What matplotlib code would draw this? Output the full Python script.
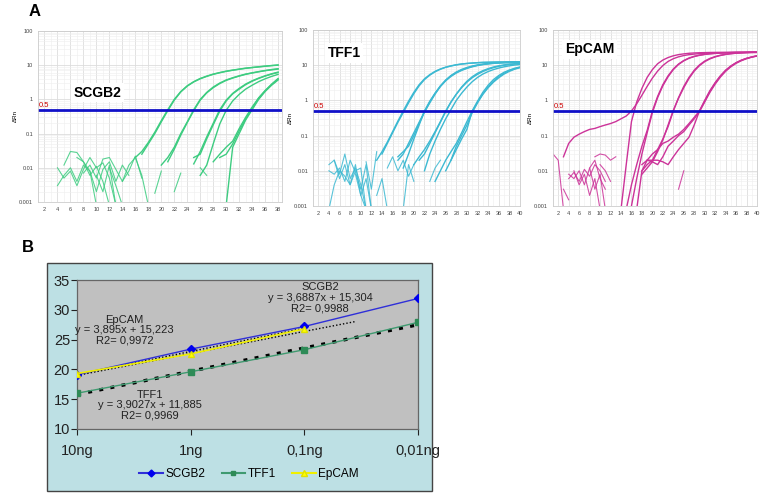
import numpy as np
import matplotlib.pyplot as plt
from matplotlib.patches import Rectangle
from matplotlib.lines import Line2D

plt.rcParams['font.family'] = ['Liberation Sans', 'DejaVu Sans']

W, H = 764, 496

# ---- panel A: amplification curves, (first cycle, values per cycle) ----
scgb2_curves = [
    (16, [0.02, 0.03, 0.055, 0.11, 0.24, 0.5, 1.0, 1.7, 2.5, 3.3, 4.1, 4.8, 5.5, 6.1, 6.7, 7.2, 7.7, 8.2, 8.6, 9.0, 9.4, 9.8, 10.2]),
    (17, [0.025, 0.05, 0.1, 0.22, 0.47, 0.95, 1.65, 2.45, 3.25, 4.0, 4.7, 5.4, 6.0, 6.6, 7.1, 7.6, 8.1, 8.5, 8.9, 9.3, 9.7, 10.0]),
    (20, [0.012, 0.02, 0.04, 0.1, 0.22, 0.5, 1.0, 1.6, 2.3, 3.0, 3.7, 4.3, 4.9, 5.5, 6.0, 6.5, 7.0, 7.5, 7.9]),
    (21, [0.015, 0.035, 0.09, 0.21, 0.47, 0.95, 1.55, 2.2, 2.9, 3.6, 4.2, 4.8, 5.4, 5.9, 6.4, 6.9, 7.3, 7.7]),
    (25, [0.013, 0.03, 0.08, 0.2, 0.5, 0.95, 1.5, 2.1, 2.8, 3.5, 4.2, 4.9, 5.6, 6.3]),
    (25, [0.02, 0.025, 0.07, 0.18, 0.45, 0.9, 1.45, 2.0, 2.7, 3.4, 4.1, 4.8, 5.5, 6.1]),
    (26, [0.006, 0.012, 0.05, 0.19, 0.48, 0.9, 1.4, 2.0, 2.6, 3.3, 4.0, 4.7, 5.4]),
    (30, [0.0008, 0.04, 0.1, 0.25, 0.5, 1.0, 1.7, 2.6, 3.7]),
    (29, [0.02, 0.025, 0.05, 0.12, 0.27, 0.55, 1.1, 1.8, 2.7, 3.9]),
    (28, [0.015, 0.025, 0.04, 0.06, 0.14, 0.3, 0.6, 1.1, 1.8, 2.8, 4.1]),
]
scgb2_noise = [
    (4, [0.003, 0.006, 0.01, 0.004, 0.012, 0.008, 0.002, 0.009, 0.015, 0.004, 0.012, 0.006]),
    (5, [0.012, 0.03, 0.028, 0.015, 0.006, 0.011, 0.004, 0.0008]),
    (4, [0.01, 0.005, 0.008, 0.003, 0.009, 0.02, 0.01, 0.014, 0.005, 0.0008]),
    (8, [0.007, 0.012, 0.005, 0.018, 0.02, 0.009, 0.004, 0.008, 0.022, 0.005]),
    (7, [0.02, 0.015, 0.008, 0.0008]),
    (10, [0.006, 0.002, 0.012, 0.0008]),
    (12, [0.01, 0.003, 0.0008]),
    (14, [0.004, 0.012, 0.02, 0.006, 0.0008]),
    (19, [0.0018, 0.008]),
    (22, [0.002, 0.007]),
    (26, [0.01, 0.006]),
]

tff1_curves = [
    (14, [0.03, 0.06, 0.12, 0.24, 0.45, 0.85, 1.55, 2.6, 3.9, 5.2, 6.5, 7.7, 8.7, 9.5, 10.2, 10.8, 11.2, 11.5, 11.8, 12.0, 12.1, 12.2, 12.3, 12.3, 12.4, 12.4, 12.4]),
    (13, [0.02, 0.035, 0.065, 0.13, 0.26, 0.5, 0.95, 1.7, 2.8, 4.1, 5.4, 6.7, 7.8, 8.8, 9.6, 10.3, 10.8, 11.2, 11.5, 11.8, 12.0, 12.1, 12.2, 12.3, 12.3, 12.4, 12.4, 12.4]),
    (17, [0.02, 0.03, 0.06, 0.12, 0.24, 0.48, 0.9, 1.6, 2.6, 3.8, 5.1, 6.4, 7.6, 8.6, 9.5, 10.2, 10.8, 11.2, 11.5, 11.7, 11.9, 12.0, 12.1, 12.1]),
    (17, [0.025, 0.035, 0.05, 0.1, 0.22, 0.46, 0.85, 1.5, 2.5, 3.7, 5.0, 6.2, 7.3, 8.3, 9.2, 9.9, 10.5, 11.0, 11.3, 11.6, 11.8, 11.9, 12.0, 12.0]),
    (18, [0.012, 0.03, 0.08, 0.2, 0.5, 0.95, 1.6, 2.5, 3.6, 4.8, 6.0, 7.1, 8.1, 9.0, 9.8, 10.4, 10.9, 11.3, 11.6, 11.8, 11.9, 12.0, 12.0]),
    (20, [0.015, 0.025, 0.04, 0.07, 0.13, 0.25, 0.5, 0.9, 1.5, 2.4, 3.5, 4.7, 5.9, 7.0, 8.0, 8.9, 9.6, 10.2, 10.7, 11.0, 11.3]),
    (21, [0.02, 0.03, 0.06, 0.12, 0.24, 0.48, 0.9, 1.5, 2.3, 3.3, 4.4, 5.5, 6.6, 7.6, 8.5, 9.3, 9.9, 10.4, 10.8, 11.1]),
    (22, [0.01, 0.03, 0.07, 0.15, 0.3, 0.55, 1.0, 1.6, 2.4, 3.4, 4.5, 5.6, 6.6, 7.5, 8.3, 9.0, 9.6, 10.1, 10.5]),
    (24, [0.005, 0.01, 0.02, 0.035, 0.06, 0.12, 0.25, 0.5, 0.95, 1.7, 2.7, 3.9, 5.1, 6.3, 7.3, 8.2, 8.9]),
    (26, [0.01, 0.02, 0.05, 0.1, 0.2, 0.45, 0.85, 1.5, 2.4, 3.5, 4.7, 5.9, 7.0, 7.9, 8.7]),
    (27, [0.02, 0.04, 0.08, 0.15, 0.5, 0.9, 1.5, 2.3, 3.3, 4.4, 5.6, 6.7, 7.7, 8.5]),
]
tff1_noise = [
    (4, [0.015, 0.02, 0.008, 0.03, 0.006, 0.012, 0.004, 0.0008]),
    (4, [0.01, 0.008, 0.012, 0.005, 0.02, 0.009, 0.003, 0.015, 0.0008]),
    (4, [0.0008, 0.004, 0.01, 0.007, 0.004, 0.015, 0.002, 0.006, 0.0008]),
    (5, [0.02, 0.006, 0.015, 0.004, 0.01, 0.012, 0.0008]),
    (9, [0.008, 0.002, 0.0008]),
    (11, [0.018, 0.003, 0.035]),
    (13, [0.002, 0.006, 0.0008]),
    (15, [0.012, 0.025, 0.01, 0.02, 0.007, 0.015]),
    (18, [0.0008, 0.015, 0.005]),
    (23, [0.005, 0.012, 0.02]),
]

epcam_curves = [
    (14, [0.0008, 0.015, 0.25, 0.9, 2.2, 4.5, 7.5, 11, 14, 16.5, 18.5, 20, 21, 21.8, 22.3, 22.6, 22.8, 23, 23.1, 23.2, 23.3, 23.3, 23.4, 23.4, 23.4, 23.5, 23.5]),
    (3, [0.025, 0.06, 0.09, 0.11, 0.13, 0.15, 0.16, 0.18, 0.2, 0.22, 0.25, 0.3, 0.36, 0.5, 0.8, 1.4, 2.5, 4.3, 6.8, 9.8, 12.8, 15.3, 17.3, 18.8, 19.9, 20.7, 21.3, 21.7, 22.0, 22.2, 22.4, 22.5, 22.6, 22.7, 22.8, 22.8, 22.9, 22.9]),
    (15, [0.0008, 0.004, 0.015, 0.05, 0.14, 0.5, 1.3, 2.8, 5.0, 7.8, 10.8, 13.6, 16.0, 17.9, 19.3, 20.4, 21.2, 21.8, 22.3, 22.6, 22.9, 23.1, 23.2, 23.3, 23.4, 23.5]),
    (16, [0.001, 0.006, 0.03, 0.12, 0.45, 1.2, 2.6, 4.7, 7.5, 10.5, 13.3, 15.7, 17.6, 19.1, 20.2, 21.0, 21.6, 22.1, 22.5, 22.8, 23.0, 23.1, 23.2, 23.3, 23.3]),
    (17, [0.0008, 0.01, 0.015, 0.02, 0.04, 0.08, 0.18, 0.5, 1.2, 2.5, 4.5, 7.2, 10.2, 13.1, 15.6, 17.6, 19.2, 20.4, 21.3, 22.0, 22.5, 22.9, 23.2, 23.4]),
    (18, [0.008, 0.012, 0.018, 0.035, 0.075, 0.2, 0.52, 1.15, 2.3, 4.2, 6.8, 9.7, 12.6, 15.1, 17.2, 18.9, 20.2, 21.2, 21.9, 22.4, 22.8, 23.1, 23.3]),
    (18, [0.015, 0.02, 0.02, 0.02, 0.018, 0.015, 0.025, 0.04, 0.06, 0.09, 0.2, 0.5, 1.0, 1.9, 3.2, 5.0, 7.2, 9.5, 11.8, 13.9, 15.7, 17.2, 18.5]),
    (18, [0.01, 0.02, 0.03, 0.04, 0.06, 0.07, 0.09, 0.11, 0.15, 0.22, 0.33, 0.5, 0.95, 1.8, 3.1, 4.9, 7.1, 9.4, 11.7, 13.8, 15.6, 17.1, 18.4]),
    (19, [0.02, 0.018, 0.015, 0.025, 0.05, 0.07, 0.1, 0.13, 0.2, 0.3, 0.48, 0.9, 1.7, 2.9, 4.6, 6.7, 9.0, 11.3, 13.4, 15.3, 16.9, 18.2]),
]
epcam_noise = [
    (1, [0.03, 0.02, 0.0008]),
    (3, [0.003, 0.0015]),
    (4, [0.008, 0.006, 0.01, 0.004, 0.012, 0.003, 0.008, 0.0008]),
    (4, [0.006, 0.009, 0.005, 0.011, 0.007, 0.015, 0.01, 0.005]),
    (5, [0.01, 0.004, 0.008, 0.002, 0.006, 0.0008]),
    (8, [0.012, 0.02, 0.006, 0.003]),
    (9, [0.025, 0.03, 0.028, 0.02, 0.025]),
    (10, [0.015, 0.01, 0.005]),
    (25, [0.003, 0.01]),
]

threshold = 0.5
ytick_vals = [0.001, 0.01, 0.1, 1, 10, 100]
ytick_labels = ["0.001", "0.01", "0.1", "1", "10", "100"]

# ---- panel B: standard curves ----
dilutions = ["10ng", "1ng", "0,1ng", "0,01ng"]
scgb2_ct = [19.1, 23.4, 27.2, 31.9]
tff1_ct = [16.0, 19.6, 23.3, 27.9]
epcam_ct = [19.3, 22.6, 26.8]
# trendline slope, intercept (x = 1..n in Excel), and last position drawn
trend_slope = [3.6887, 3.9027, 3.895]
trend_icpt = [15.304, 11.885, 15.223]
trend_end = [2.45, 3.0, 2.0]


def rect(l, t, r, b):
    return [l / W, 1 - b / H, (r - l) / W, (b - t) / H]


def amp_panel(ax, curves, noise, color, xmax, tick_max, title, title_xy):
    for start, vals in noise:
        ax.plot(np.arange(start, start + len(vals)), vals, color=color, lw=0.8, alpha=0.85)
    for start, vals in curves:
        ax.plot(np.arange(start, start + len(vals)), vals, color=color, lw=1.0)
    ax.axhline(threshold, color="#1010c8", lw=2)
    ax.text(1.15, threshold * 1.05, "0.5", color="#cc0000", fontsize=5.5, va="bottom")
    ax.set_yscale("log")
    ax.set_ylim(0.001, 100)
    ax.set_xlim(1, xmax)
    ax.set_yticks(ytick_vals, ytick_labels)
    ax.set_xticks(np.arange(2, tick_max + 1, 2))
    ax.set_xticks(np.arange(1, xmax + 0.1, 1), minor=True)
    ax.tick_params(labelsize=4, length=0, which="both", colors="#444444")
    ax.grid(True, which="major", color="#dddddd", lw=0.6)
    ax.grid(True, which="minor", color="#eeeeee", lw=0.4)
    ax.set_axisbelow(True)
    for s in ax.spines.values():
        s.set_color("#cccccc")
        s.set_linewidth(0.6)
    ax.set_ylabel("ΔRn", fontsize=4.5, labelpad=1)
    ax.text(title_xy[0], title_xy[1], title, transform=ax.transAxes, fontsize=10,
            fontweight="bold", ha="left", va="center",
            bbox=dict(facecolor="white", edgecolor="none", pad=2))


fig = plt.figure(figsize=(W / 100, H / 100), dpi=100)

ax1 = fig.add_axes(rect(38, 31, 282, 202))
amp_panel(ax1, scgb2_curves, scgb2_noise, "#3dcc80", 38.6, 38, "SCGB2", (0.145, 0.64))
ax2 = fig.add_axes(rect(313, 30, 520, 206))
amp_panel(ax2, tff1_curves, tff1_noise, "#3cb9d2", 40, 40, "TFF1", (0.07, 0.87))
ax3 = fig.add_axes(rect(553, 30, 757, 206))
amp_panel(ax3, epcam_curves, epcam_noise, "#cc3399", 40, 40, "EpCAM", (0.06, 0.89))

fig.text(35 / W, 1 - 11 / H, "A", fontsize=12, fontweight="bold", ha="center", va="center")
fig.text(28 / W, 1 - 247 / H, "B", fontsize=12, fontweight="bold", ha="center", va="center")

# panel B frame, drawn below the axes
fig.patches.append(Rectangle((47 / W, 1 - 491 / H), (432 - 47) / W, (491 - 263) / H,
                             transform=fig.transFigure, facecolor="#bde0e4",
                             edgecolor="#444444", lw=1.0, zorder=-5))

axb = fig.add_axes(rect(77, 280, 418, 429))
axb.set_zorder(2)
axb.set_facecolor("#c0c0c0")
xpos = np.arange(len(dilutions))

for slope, icpt, end, style in zip(trend_slope, trend_icpt, trend_end,
                                   [(0, (1, 1.5)), (0, (1.2, 2.2)), (0, (1, 1.5))]):
    xt = np.array([0, end])
    lw = 2.4 if slope == trend_slope[1] else 1.0
    axb.plot(xt, slope * (xt + 1) + icpt, color="black", lw=lw, linestyle=style, zorder=3)

axb.plot(xpos, scgb2_ct, color="#2f2fd8", lw=1.0, marker="D", ms=4, mfc="#0000ee", mec="#0000ee", zorder=4)
axb.plot(xpos, tff1_ct, color="#3f9a70", lw=1.0, marker="s", ms=5, mfc="#2e8b57", mec="#2e8b57", zorder=4)
axb.plot(xpos[:len(epcam_ct)], epcam_ct, color="#f0f000", lw=1.2, marker="^", ms=5,
         mfc="#ffff00", mec="#e0e000", zorder=4)

axb.set_xlim(0, 3)
axb.set_ylim(10, 35)
axb.set_yticks([10, 15, 20, 25, 30, 35])
axb.set_xticks(xpos, dilutions)
axb.tick_params(labelsize=10.5, length=4, direction="out", colors="#222222", pad=1)
axb.tick_params(axis="x", pad=7)
for s in axb.spines.values():
    s.set_color("#666666")
    s.set_linewidth(0.9)

axb.text(0.42, 26.6, "EpCAM\ny = 3,895x + 15,223\nR2= 0,9972", ha="center", va="center",
         fontsize=8, color="#222222", linespacing=1.05)
axb.text(2.14, 32.0, "SCGB2\ny = 3,6887x + 15,304\nR2= 0,9988", ha="center", va="center",
         fontsize=8, color="#222222", linespacing=1.05)
axb.text(0.64, 14.0, "TFF1\ny = 3,9027x + 11,885\nR2= 0,9969", ha="center", va="center",
         fontsize=8, color="#222222", linespacing=1.05)

handles = [
    Line2D([], [], color="#2f2fd8", marker="D", ms=3.5, mfc="#0000ee", mec="#0000ee"),
    Line2D([], [], color="#3f9a70", marker="s", ms=3.5, mfc="#2e8b57", mec="#2e8b57"),
    Line2D([], [], color="#f0f000", marker="^", ms=4.5, mfc="#ffff00", mec="#e0e000"),
]
fig.legend(handles, ["SCGB2", "TFF1", "EpCAM"], loc="center", bbox_to_anchor=(249 / W, 1 - 474 / H),
           ncol=3, frameon=False, fontsize=8.5, handlelength=2.0, handletextpad=0.2,
           columnspacing=1.4)

fig.savefig("out.png", dpi=100)
